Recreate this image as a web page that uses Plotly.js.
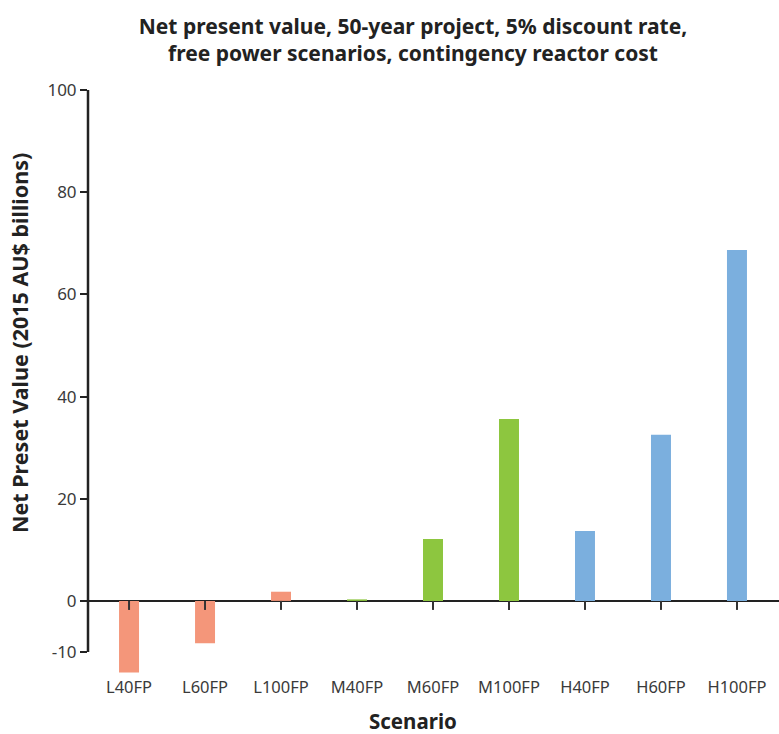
<!DOCTYPE html>
<html>
<head>
<meta charset="utf-8">
<script src="https://cdn.plot.ly/plotly-3.0.1.min.js"></script>
<style>html,body{margin:0;padding:0;background:#fff;}#chart{width:779px;height:734px;}</style>
</head>
<body>
<div id="chart"></div>
<script>
// Data
const categories = ["L40FP", "L60FP", "L100FP", "M40FP", "M60FP", "M100FP", "H40FP", "H60FP", "H100FP"];
const npvValues = [-14.0, -8.3, 1.8, 0.3, 12.1, 35.6, 13.7, 32.5, 68.7];
const yTickValues = [-10, 0, 20, 40, 60, 80, 100];
const yTickLabels = ["-10", "0", "20", "40", "60", "80", "100"];
const groupColors = { L: "#F4967A", M: "#8DC63F", H: "#7BAFDE" };

const W = 779, H = 734;
const margin = { l: 88, r: 0, t: 90, b: 59 };
const plotW = W - margin.l - margin.r;
const plotH = H - margin.t - margin.b;
const FONT = "'Noto Sans', 'Open Sans', sans-serif";

const barColors = categories.map(c => groupColors[c.charAt(0)]);

const trace = {
  type: "bar",
  x: categories,
  y: npvValues,
  width: 0.263,
  marker: { color: barColors, line: { width: 0 } },
  hoverinfo: "x+y"
};

// x tick marks at the zero line, one per category
const tickShapes = categories.map(c => ({
  type: "line",
  xref: "x", yref: "y",
  x0: c, x1: c,
  ysizemode: "pixel", yanchor: 0,
  y0: 0, y1: -9,
  line: { color: "#333", width: 2 },
  layer: "above"
}));

const layout = {
  width: W, height: H,
  margin: margin,
  paper_bgcolor: "#fff",
  plot_bgcolor: "#fff",
  showlegend: false,
  font: { family: FONT, color: "#333" },
  title: {
    text: "<b>Net present value, 50-year project, 5% discount rate,<br>free power scenarios, contingency reactor cost</b>",
    font: { family: FONT, size: 21, color: "#222" },
    xref: "container", yref: "container",
    x: 413 / W, y: 1 - 34 / H,
    xanchor: "center", yanchor: "middle"
  },
  xaxis: {
    type: "category",
    range: [-0.54, 8.553],
    showline: false,
    showgrid: false,
    zeroline: false,
    ticks: "",
    tickfont: { family: FONT, size: 16.5, color: "#3a3a3a" },
    fixedrange: true
  },
  yaxis: {
    range: [-14.5, 100],
    tickvals: yTickValues,
    ticktext: yTickLabels,
    ticks: "outside",
    ticklen: 7,
    tickwidth: 2,
    tickcolor: "#222",
    showline: false,
    showgrid: false,
    zeroline: true,
    zerolinecolor: "#222",
    zerolinewidth: 2.5,
    tickfont: { family: FONT, size: 17, color: "#3a3a3a" },
    fixedrange: true
  },
  shapes: [
    {
      type: "line", xref: "paper", yref: "y",
      x0: 0, x1: 0, y0: -10, y1: 100,
      line: { color: "#222", width: 2.5 },
      layer: "above"
    }
  ].concat(tickShapes),
  annotations: [
    {
      text: "<b>Net Preset Value (2015 AU$ billions)</b>",
      xref: "paper", yref: "paper",
      x: (19 - margin.l) / plotW,
      y: (H - margin.b - 343) / plotH,
      xanchor: "center", yanchor: "middle",
      textangle: -90,
      showarrow: false,
      font: { family: FONT, size: 21.5, color: "#222" }
    },
    {
      text: "<b>Scenario</b>",
      xref: "paper", yref: "paper",
      x: (413 - margin.l) / plotW,
      y: (H - margin.b - 721) / plotH,
      xanchor: "center", yanchor: "middle",
      showarrow: false,
      font: { family: FONT, size: 20.5, color: "#222" }
    }
  ]
};

Plotly.newPlot("chart", [trace], layout, { displayModeBar: false, staticPlot: true });
</script>
</body>
</html>
